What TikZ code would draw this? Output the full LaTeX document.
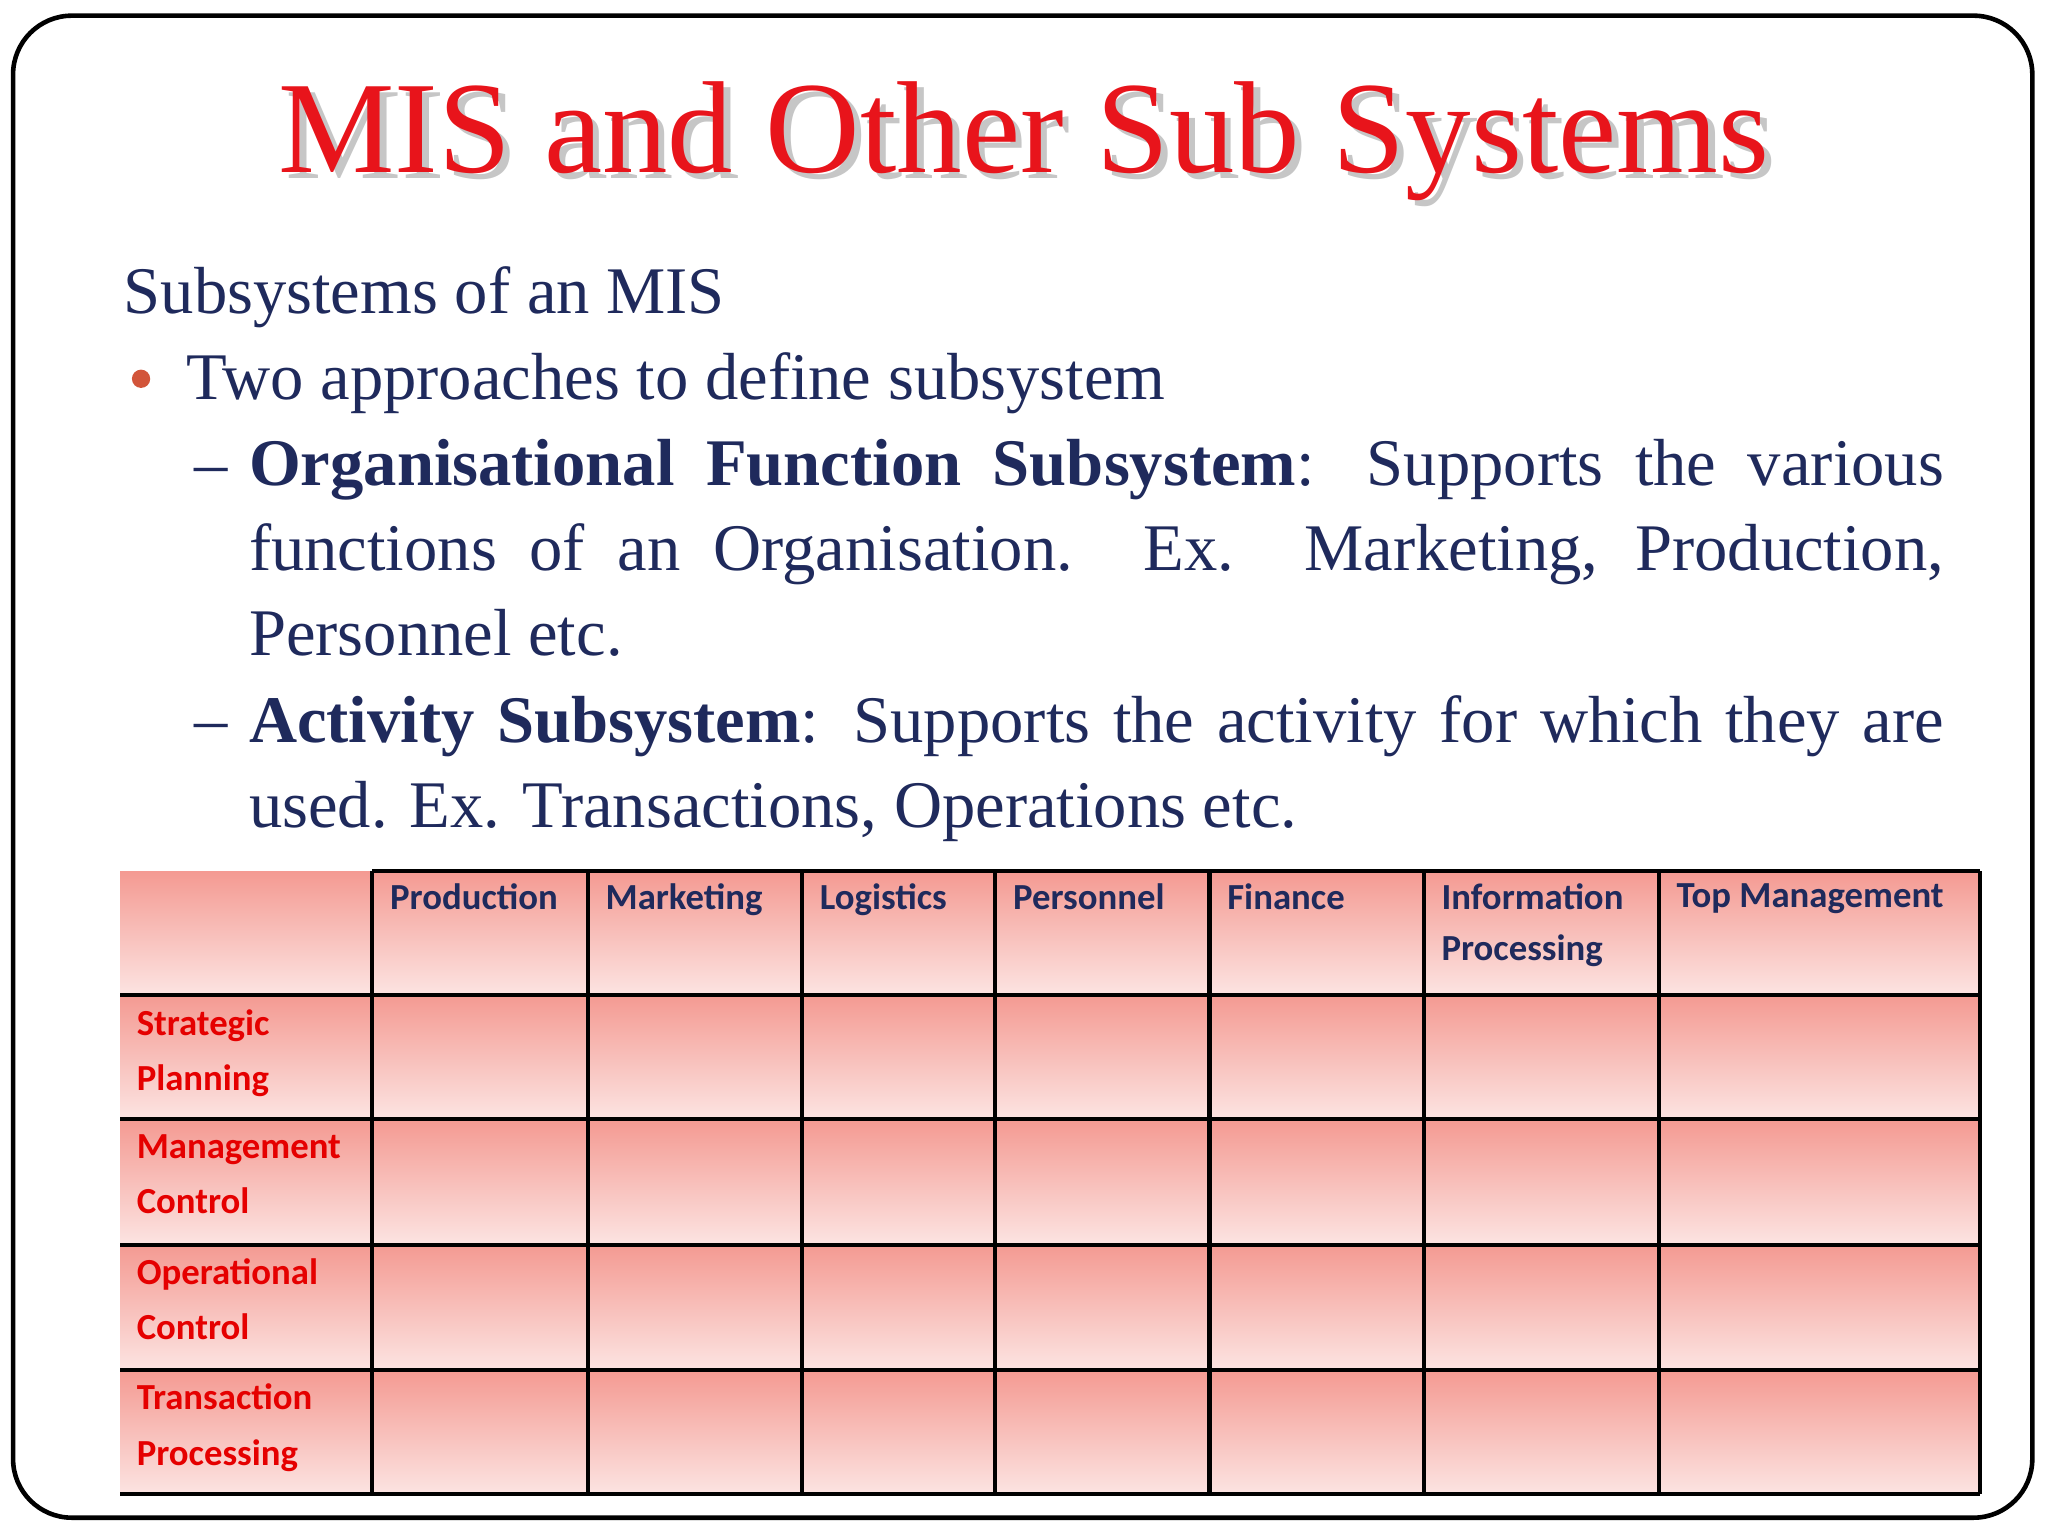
\documentclass[tikz,border=0pt]{standalone}
\usepackage{fontspec}
\setmainfont{Liberation Serif}
\newfontfamily\tabfont{Carlito}
\definecolor{navy}{HTML}{1F2A5C}
\definecolor{titlered}{HTML}{E8141B}
\definecolor{celltop}{HTML}{F49A92}
\definecolor{cellbot}{HTML}{FCE4E2}
\definecolor{bulletc}{HTML}{D2553A}
\tikzset{
  colhead/.style={anchor=north west, font=\tabfont\bfseries\fontsize{8pt}{10.5pt}\selectfont, text=navy, align=left, inner sep=0pt},
  rowhead/.style={anchor=north west, font=\tabfont\bfseries\fontsize{8pt}{12pt}\selectfont, text=red!90!black, align=left, inner sep=0pt},
  body/.style={font=\fontsize{14.5pt}{18.5pt}\selectfont, text=navy, inner sep=0pt}
}
\begin{document}
\begin{tikzpicture}[x=0.01cm,y=-0.01cm]
\useasboundingbox (0,0) rectangle (1568,1176);
\draw[line width=1pt, rounded corners=0.45cm] (10,12) rectangle (1556,1162);
\node[font=\fontsize{28.5pt}{32pt}\selectfont, text=gray!45, inner sep=0] at (789,113) {MIS and Other Sub Systems};
\node[font=\fontsize{28.5pt}{32pt}\selectfont, text=titlered, inner sep=0] (title) at (784,108) {MIS and Other Sub Systems};
\node[body, anchor=base west] (sub) at (94,240) {Subsystems of an MIS};
\fill[bulletc] (108,290) circle (7);
\node[body, anchor=base west] (two) at (142,306) {Two approaches to define subsystem};
\node[body, anchor=base west] at (148,372) {--};
\node[body, anchor=north west, text width=12.97cm, align=justify] (p1) at (190,336)
 {\textbf{Organisational Function Subsystem}: Supports the various functions of an Organisation. Ex. Marketing, Production,\linebreak Personnel etc.};
\node[body, anchor=base west] at (148,568) {--};
\node[body, anchor=north west, text width=12.97cm, align=justify] (p2) at (190,532)
 {\textbf{Activity Subsystem}: Supports the activity for which they are used. Ex. Transactions, Operations etc.};
% table
\foreach \ya/\yb in {667/762,762/857,857/953,953/1049,1049/1144}{
  \foreach \xa/\xb in {92/285,285/450,450/614,614/762,762/926,926/1090,1090/1270,1270/1516}{
    \path[top color=celltop, bottom color=cellbot] (\xa,\ya) rectangle (\xb,\yb);
  }
}
\foreach \y in {762,857,953,1049,1144} \draw[line width=0.9pt] (92,\y) -- (1516,\y);
\draw[line width=0.9pt] (285,667) -- (1516,667);
\foreach \x in {285,450,614,762,926,1090,1270,1516} \draw[line width=0.9pt] (\x,667) -- (\x,1144);
\node[colhead] (c1) at (298,676) {Production};
\node[colhead] (c2) at (463,676) {Marketing};
\node[colhead] (c3) at (627,676) {Logistics};
\node[colhead] (c4) at (775,676) {Personnel};
\node[colhead] (c5) at (939,676) {Finance};
\node[colhead] (c6) at (1103,676) {Information\\[0.6pt]Processing};
\node[colhead] (c7) at (1283,676) {Top Management};
\node[rowhead] (r1) at (104,772) {Strategic\\Planning};
\node[rowhead] (r2) at (104,868) {Management\\Control};
\node[rowhead] (r3) at (104,963) {Operational\\Control};
\node[rowhead] (r4) at (104,1059) {Transaction\\Processing};
\end{tikzpicture}
\end{document}
